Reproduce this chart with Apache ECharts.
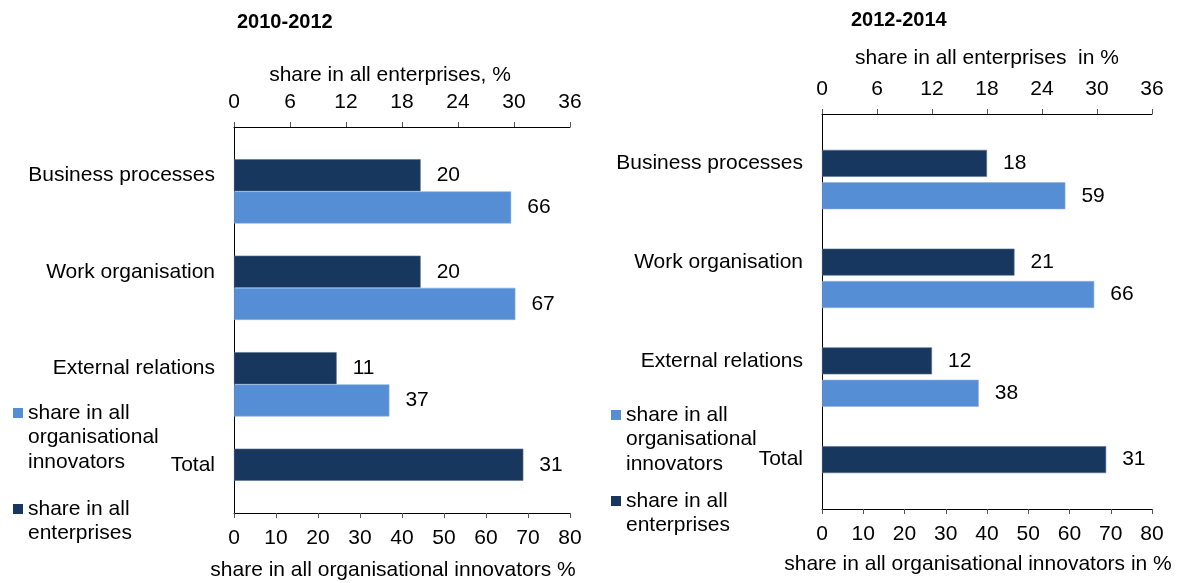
<!DOCTYPE html>
<html>
<head>
<meta charset="utf-8">
<script src="https://cdn.jsdelivr.net/npm/echarts@6/dist/echarts.min.js"></script>
<style>
  html, body { margin: 0; padding: 0; background: #fff; }
  #chart { width: 1181px; height: 583px; }
</style>
</head>
<body>
<div id="chart"></div>
<script>
// categories, top to bottom
const categories = ['Business processes', 'Work organisation', 'External relations', 'Total'];

// 2010-2012
const enterprises2010 = [20, 20, 11, 31];
const innovators2010 = [66, 67, 37, null];
// 2012-2014
const enterprises2012 = [18, 21, 12, 31];
const innovators2012 = [59, 66, 38, null];

const topTicks = [0, 6, 12, 18, 24, 30, 36];
const bottomTicks = [0, 10, 20, 30, 40, 50, 60, 70, 80];

const DARK = '#17375E';
const LIGHT = '#558ED5';
const FONT = '"Liberation Sans", Arial, sans-serif';
const FS = 21;

const nameEnt = 'share in all enterprises';
const nameInn = 'share in all organisational innovators';

const chart = echarts.init(document.getElementById('chart'));

function xAxes(gridIndex, topName, bottomName, topShift, bottomShift, topGap, bottomGap) {
  const common = {
    type: 'value',
    gridIndex: gridIndex,
    min: 0,
    nameLocation: 'middle',
    splitLine: { show: false },
    axisLine: { show: true, lineStyle: { color: '#000', width: 1 } },
    axisTick: { show: true, length: 5, lineStyle: { color: '#555' } },
    axisLabel: { color: '#000', fontFamily: FONT, fontSize: FS }
  };
  return [
    Object.assign({}, common, {
      position: 'top',
      max: topTicks[topTicks.length - 1],
      interval: topTicks[1] - topTicks[0],
      name: topName,
      nameGap: topGap,
      nameTextStyle: { color: '#000', fontFamily: FONT, fontSize: FS, padding: [0, topShift * 2, 0, 0] },
      axisLabel: Object.assign({}, common.axisLabel, { margin: 14 })
    }),
    Object.assign({}, common, {
      position: 'bottom',
      max: bottomTicks[bottomTicks.length - 1],
      interval: bottomTicks[1] - bottomTicks[0],
      name: bottomName,
      nameGap: bottomGap,
      nameTextStyle: { color: '#000', fontFamily: FONT, fontSize: FS, padding: [0, bottomShift * 2, 0, 0] },
      axisLabel: Object.assign({}, common.axisLabel, { margin: 15 })
    })
  ];
}

function yAxis(gridIndex) {
  return {
    type: 'category',
    gridIndex: gridIndex,
    data: categories,
    inverse: true,
    axisLine: { show: true, lineStyle: { color: '#000', width: 1 } },
    axisTick: { show: false },
    axisLabel: { color: '#000', fontFamily: FONT, fontSize: FS, margin: 19 }
  };
}

const label = {
  show: true,
  position: 'right',
  distance: 16,
  color: '#000',
  fontFamily: FONT,
  fontSize: FS
};

function panelSeries(gridIdx, ent, inn, barOpts) {
  const xTop = gridIdx * 2, xBottom = gridIdx * 2 + 1;
  return [
    // empty slot above the pair (as in the original layout)
    Object.assign({ type: 'bar', name: 'spacer' + gridIdx, xAxisIndex: xBottom, yAxisIndex: gridIdx, data: [], silent: true }, barOpts),
    Object.assign({
      type: 'bar', name: nameEnt, xAxisIndex: xTop, yAxisIndex: gridIdx, data: ent,
      itemStyle: { color: DARK, borderColor: '#5C7291', borderWidth: 0.6 },
      label: label
    }, barOpts),
    Object.assign({
      type: 'bar', name: nameInn, xAxisIndex: xBottom, yAxisIndex: gridIdx, data: inn,
      itemStyle: { color: LIGHT, borderColor: '#8DB0E0', borderWidth: 0.6 },
      label: label
    }, barOpts)
  ];
}

const legendText = {};
legendText[nameInn] = '\n\nshare in all\norganisational\ninnovators';
legendText[nameEnt] = '\nshare in all\nenterprises';

function legend(left, iconCenter, name, lines) {
  const lh = 24.5;
  return {
    data: [name],
    orient: 'vertical',
    left: left,
    top: iconCenter - lines / 2 * lh,
    icon: 'rect',
    itemWidth: 10,
    itemHeight: 10,
    itemStyle: { borderWidth: 0 },
    selectedMode: false,
    padding: 0,
    formatter: n => legendText[n],
    textStyle: { color: '#000', fontFamily: FONT, fontSize: FS, lineHeight: lh }
  };
}

const option = {
  animation: false,
  backgroundColor: '#fff',
  textStyle: { fontFamily: FONT },
  title: [
    { text: '2010-2012', left: 237, top: 12, padding: 0, textStyle: { fontFamily: FONT, fontSize: 20, fontWeight: 'bold', color: '#000' } },
    { text: '2012-2014', left: 851, top: 10, padding: 0, textStyle: { fontFamily: FONT, fontSize: 20, fontWeight: 'bold', color: '#000' } }
  ],
  legend: [
    legend(13, 413, nameInn, 5),
    legend(13, 509, nameEnt, 3),
    legend(611, 415, nameInn, 5),
    legend(611, 501, nameEnt, 3)
  ],
  grid: [
    { left: 234, top: 127, width: 336, height: 386, outerBoundsMode: 'none' },
    { left: 822, top: 114, width: 330, height: 395, outerBoundsMode: 'none' }
  ],
  xAxis: [
    ...xAxes(0, 'share in all enterprises, %', 'share in all organisational innovators %', 12, 9, 41, 47),
    ...xAxes(1, 'share in all enterprises  in %', 'share in all organisational innovators in %', 0, 9, 45, 45)
  ],
  yAxis: [yAxis(0), yAxis(1)],
  series: [
    ...panelSeries(0, enterprises2010, innovators2010, { barCategoryGap: '0%', barGap: '0%' }),
    ...panelSeries(1, enterprises2012, innovators2012, { barWidth: 27, barGap: '20%' })
  ]
};

chart.setOption(option);
</script>
</body>
</html>
